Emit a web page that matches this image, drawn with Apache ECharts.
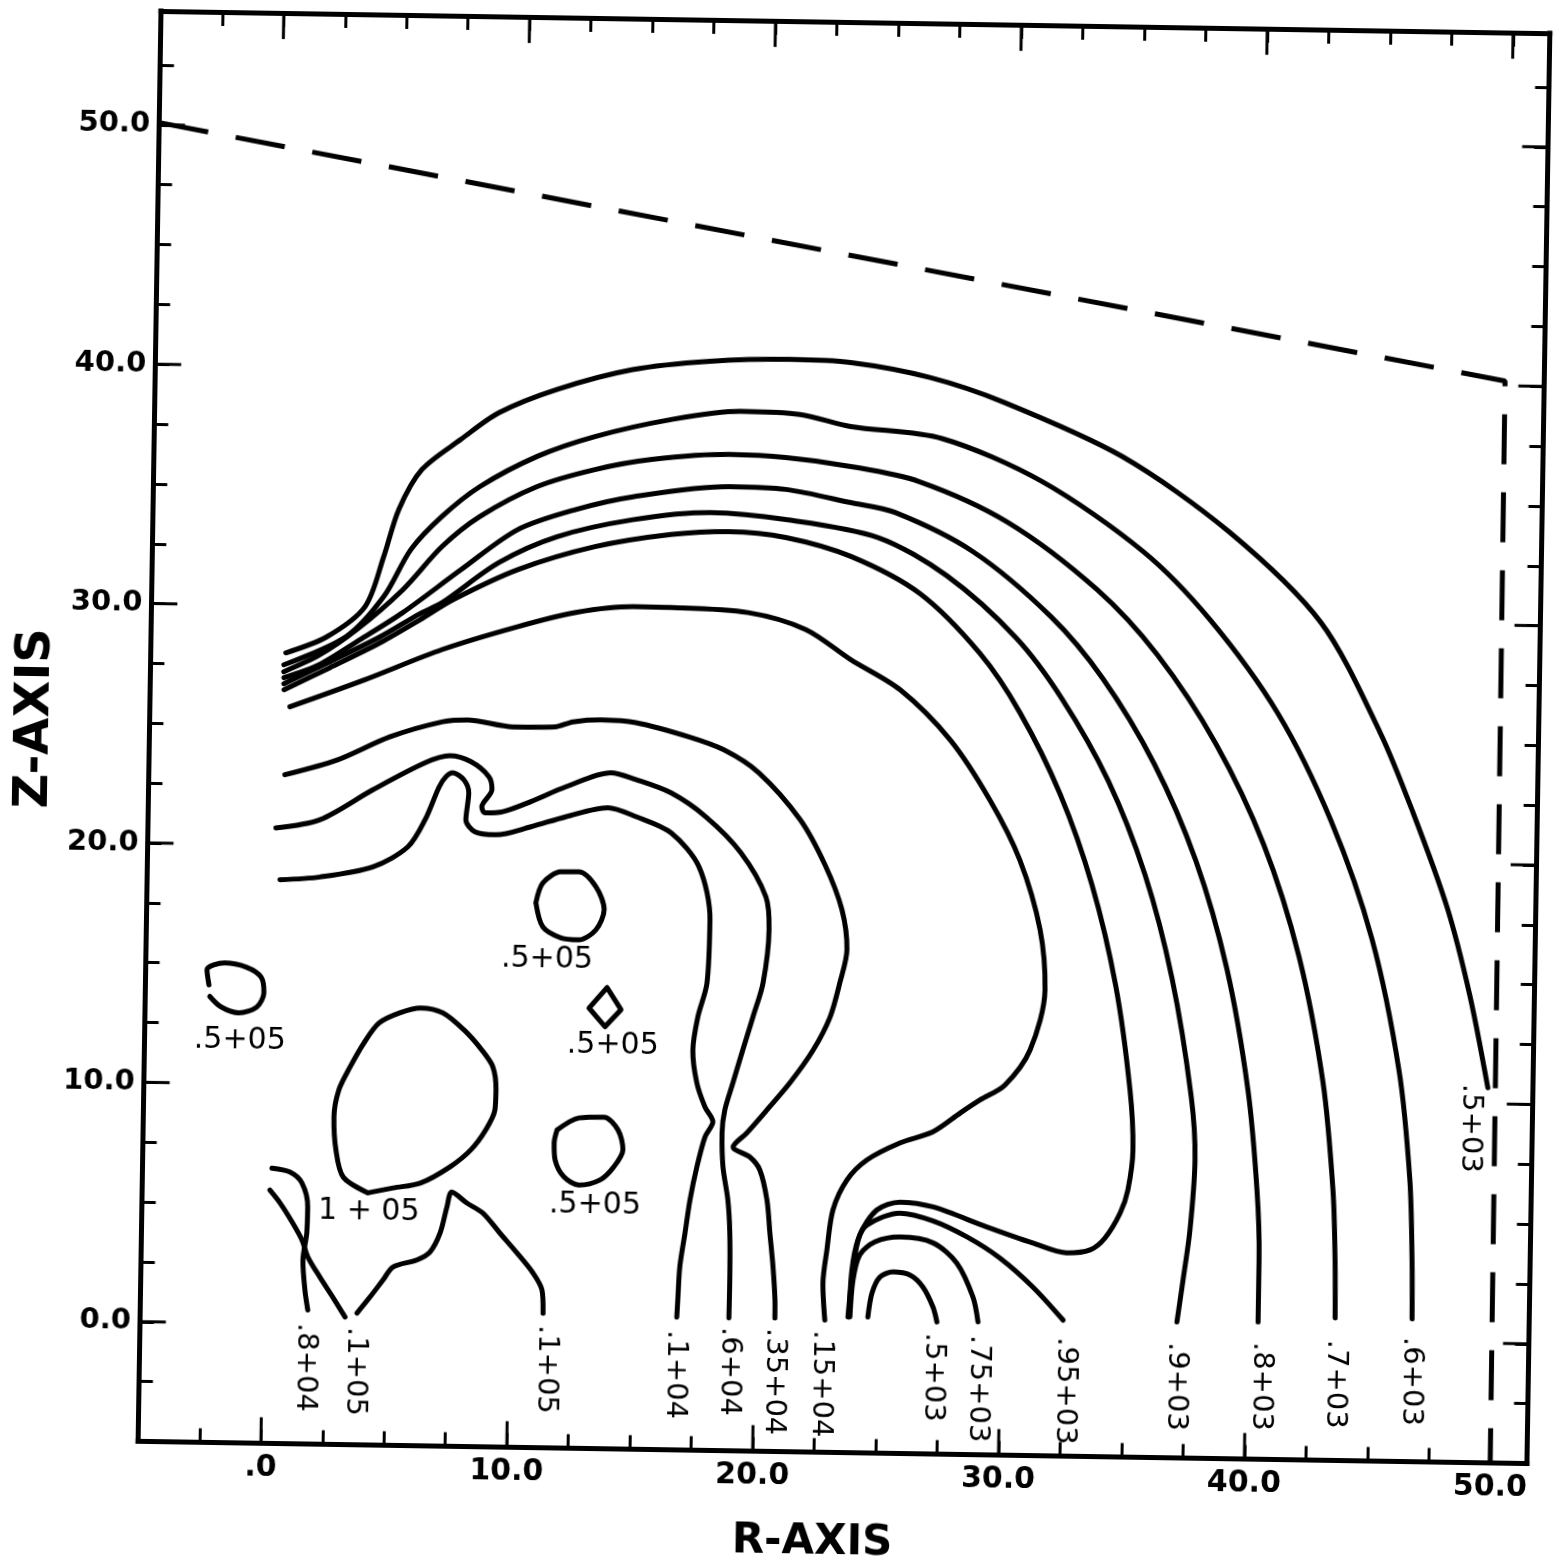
<!DOCTYPE html>
<html><head><meta charset="utf-8">
<script src="https://cdn.jsdelivr.net/npm/echarts@6/dist/echarts.min.js"></script>
<style>
html,body{margin:0;padding:0;background:#fff;overflow:hidden;width:1565px;height:1566px;}
/* the scanned original sits about 0.92 degree clockwise on the page */
#chart{width:1565px;height:1566px;transform-origin:843px 735px;transform:rotate(0.917deg);}
</style>
</head><body><div id="chart"></div>
<script>
// ---- axes ----
const xMin = -5, xMax = 51.5, yMin = -5, yMax = 54.75, tickStep = 2.5;
const xLabelValues = [0, 10, 20, 30, 40, 50];
const xLabelTexts = ['.0', '10.0', '20.0', '30.0', '40.0', '50.0'];
const yLabelValues = [0, 10, 20, 30, 40, 50];
const yLabelTexts = ['0.0', '10.0', '20.0', '30.0', '40.0', '50.0'];
const majorTicksX = [0, 10, 20, 30, 40, 50];
const majorTicksY = [0, 10, 20, 30, 40, 50];

// ---- contour lines (R, Z) ----
const c500 = [[0.50,28.03],[2.16,28.73],[3.69,30.01],[4.42,32.12],[5.00,34.09],[5.91,35.77],[7.48,37.06],[9.01,38.20],[11.35,39.21],[14.42,40.09],[17.55,40.49],[20.80,40.62],[23.29,40.53],[26.51,39.96],[29.57,38.96],[34.38,36.79],[38.77,33.72],[42.57,29.99],[45.05,25.43],[46.44,22.11],[47.89,18.16],[48.87,14.50],[49.66,10.67]];
const c600 = [[0.43,27.53],[2.93,28.74],[4.45,30.45],[5.52,32.43],[6.76,33.83],[8.28,35.10],[10.59,36.40],[12.93,37.27],[16.01,38.03],[18.81,38.42],[21.25,38.33],[23.33,37.86],[27.04,37.42],[31.14,35.69],[35.29,32.84],[38.06,30.03],[40.88,26.16],[43.11,21.71],[44.85,16.81],[46.04,11.32],[46.55,6.76],[46.69,3.43],[46.73,0.96]];
const c700 = [[0.43,27.24],[1.88,27.97],[3.37,29.05],[5.22,30.75],[6.78,32.57],[8.30,33.85],[10.61,35.14],[12.95,35.89],[15.26,36.35],[18.38,36.61],[20.71,36.52],[23.36,36.19],[26.13,35.61],[29.78,33.96],[33.44,31.22],[35.93,28.54],[38.38,24.85],[40.39,20.67],[41.90,16.01],[42.95,10.81],[43.43,6.29],[43.56,3.37],[43.60,0.95]];
const c800 = [[0.44,26.99],[1.85,27.55],[3.51,28.63],[5.23,29.79],[7.57,31.62],[9.85,33.33],[12.20,34.21],[14.51,34.78],[18.40,35.27],[20.73,35.19],[23.38,34.68],[25.18,34.30],[28.37,32.72],[31.59,30.05],[33.74,27.50],[35.88,23.98],[37.64,19.95],[38.97,15.46],[39.90,10.46],[40.34,6.24],[40.47,3.32],[40.47,0.73]];
const c900 = [[0.44,26.74],[2.30,27.69],[4.32,28.76],[5.92,29.75],[6.82,30.23],[9.10,31.94],[11.45,33.06],[14.52,33.82],[17.65,34.17],[20.75,33.93],[24.51,33.24],[27.33,31.69],[30.18,29.15],[32.09,26.63],[34.02,23.24],[35.58,19.34],[36.75,15.01],[37.60,10.13],[37.80,7.46],[37.64,4.53],[37.39,2.43],[37.17,0.68]];
const cInner = [[0.45,26.49],[2.30,27.44],[4.32,28.51],[5.93,29.50],[7.26,30.36],[9.88,31.66],[13.00,32.67],[16.08,33.23],[18.43,33.39],[20.76,33.18],[23.42,32.43],[26.24,30.93],[28.73,28.46],[30.39,26.02],[32.07,22.66],[33.43,18.88],[34.47,14.64],[35.11,10.34],[35.27,7.84],[35.09,6.16],[34.79,5.19],[34.19,4.14],[33.59,3.63],[32.65,3.49],[31.26,3.88],[29.38,4.52],[27.18,5.32],[25.83,5.50],[24.90,5.16],[24.22,4.10],[23.96,2.63],[23.79,0.67]];
const c1500 = [[0.70,25.78],[3.73,26.96],[6.85,28.27],[9.92,29.28],[12.27,29.91],[14.58,30.19],[16.13,30.18],[19.27,30.02],[21.63,29.35],[23.48,28.12],[25.50,26.90],[27.56,24.85],[29.22,22.36],[30.48,19.87],[31.35,16.97],[31.59,14.46],[31.02,11.94],[30.02,10.46],[29.02,9.82],[28.22,9.26],[27.13,8.46],[25.79,7.97],[24.46,7.24],[23.66,6.39],[23.11,5.13],[22.89,3.45],[22.75,2.07],[22.85,0.52]];
const c3500 = [[0.54,22.94],[2.68,23.60],[4.78,24.59],[6.93,25.26],[7.94,25.35],[9.78,25.09],[11.49,25.12],[12.22,25.34],[13.35,25.44],[14.78,25.35],[16.95,24.79],[18.38,24.27],[19.81,23.34],[21.52,21.41],[22.56,19.54],[23.28,17.67],[23.51,16.00],[23.24,14.61],[22.87,13.19],[22.20,11.79],[21.28,10.41],[20.36,9.26],[19.56,8.29],[19.01,7.69],[19.70,7.28],[20.11,6.75],[20.42,5.50],[20.56,4.13],[20.71,2.71],[20.81,1.33],[20.82,0.58]];
const c6000 = [[0.21,20.71],[1.99,21.08],[4.13,22.37],[6.23,23.53],[7.24,23.84],[8.09,23.61],[8.84,22.99],[8.97,22.45],[8.57,21.73],[8.70,21.48],[9.43,21.54],[10.56,21.98],[11.97,22.62],[13.80,23.24],[14.82,22.97],[16.25,22.44],[17.69,21.46],[19.13,19.99],[20.18,18.16],[20.33,16.79],[20.12,14.56],[19.73,13.13],[19.34,11.75],[18.96,10.37],[18.65,9.24],[18.55,8.27],[18.61,6.85],[18.83,5.48],[18.93,4.10],[18.96,2.01],[18.95,0.55]];
const c1000 = [[0.41,18.55],[2.03,18.69],[4.18,19.15],[5.59,20.01],[6.27,21.15],[6.82,22.53],[7.09,22.96],[7.37,23.13],[7.82,22.85],[8.03,22.30],[7.93,21.18],[8.31,20.68],[9.16,20.57],[10.58,20.93],[11.99,21.37],[13.70,21.78],[14.85,21.42],[16.28,20.77],[17.44,19.37],[17.92,17.17],[17.84,14.52],[17.49,13.10],[17.31,11.71],[17.49,10.35],[17.84,9.34],[18.17,8.73],[17.86,8.09],[17.55,6.84],[17.29,5.45],[17.11,4.07],[16.92,2.65],[16.86,1.26],[16.83,0.55]];
const c500small = [[24.60,0.68],[24.75,1.68],[25.07,2.36],[25.60,2.58],[26.29,2.46],[26.82,1.97],[27.24,1.14],[27.41,0.52]];
const c750 = [[23.87,0.67],[23.97,2.21],[24.23,3.27],[24.84,3.82],[25.85,4.04],[27.20,3.82],[28.18,2.99],[28.86,1.58],[29.08,0.55]];
const c950 = [[23.83,0.67],[23.92,2.63],[24.14,3.88],[24.50,4.52],[25.84,5.04],[27.18,4.74],[28.58,4.09],[29.93,3.23],[31.29,2.04],[32.54,0.68]];
const c8000 = [[0.27,6.50],[1.00,6.35],[1.50,5.90],[1.75,4.90],[1.73,3.82],[1.59,2.68],[1.69,1.43],[1.82,0.60]];
const c10000a = [[0.20,5.58],[0.62,5.05],[1.15,4.22],[1.54,3.51],[1.79,2.81],[2.29,1.98],[2.83,1.15],[3.34,0.33]];
const c10000b = [[3.82,0.50],[4.34,1.18],[4.86,1.90],[5.26,2.45],[6.22,2.76],[6.75,3.10],[7.15,3.90],[7.41,4.99],[7.60,5.62],[8.22,5.17],[8.88,4.76],[9.58,3.94],[10.29,3.12],[10.95,2.30],[11.33,1.59],[11.39,0.62]];
const c100000 = [[4.19,5.53],[3.17,6.18],[2.86,7.30],[2.76,8.67],[2.94,9.81],[3.38,10.77],[3.93,11.79],[4.53,12.63],[5.37,13.07],[6.22,13.29],[7.12,13.10],[7.99,12.40],[8.73,11.57],[9.19,10.87],[9.33,9.91],[9.30,9.08],[8.94,8.24],[8.35,7.40],[7.51,6.67],[6.33,5.98],[5.21,5.75],[4.19,5.53]];
const c50000a = [[-2.41,14.11],[-2.50,14.74],[-1.78,15.04],[-0.91,14.88],[-0.30,14.48],[-0.17,13.82],[-0.45,13.22],[-1.18,12.96],[-1.91,13.20],[-2.37,13.63]];
const c50000b = [[10.83,17.76],[11.10,18.59],[11.83,19.07],[12.56,19.08],[13.26,18.47],[13.61,17.51],[13.29,16.67],[12.60,16.24],[11.87,16.31],[11.13,16.75],[10.83,17.76]];
const c50000c = [[13.78,14.26],[14.36,13.35],[13.72,12.63],[13.06,13.40],[13.78,14.26]];
const c50000d = [[11.84,8.28],[12.72,8.80],[13.74,8.85],[14.32,8.32],[14.53,7.50],[14.17,6.78],[13.61,6.22],[12.76,6.00],[12.15,6.33],[11.78,7.03],[11.73,7.74],[11.84,8.28]];
const boundary = [[-5,50.09],[49.9,40.2],[50.0,-5]];

// ---- contour labels ----
const endLabels = ['.8+04','.1+05','.1+05','.1+04','.6+04','.35+04','.15+04','.5+03','.75+03','.95+03','.9+03','.8+03','.7+03','.6+03','.5+03'];
const endLabelR = [1.75,3.79,11.56,16.80,18.99,20.83,22.74,27.29,29.14,32.68,37.18,40.64,43.65,46.74,48.97];
const endLabelZ = [0.05,-0.08,0.13,0.0,0.17,0.16,0.10,0.06,0.0,-0.03,-0.16,-0.10,0.04,0.21,10.82];
const innerLabels = ['.5+05','.5+05','.5+05','.5+05','1 + 05'];
const innerLabelR = [-1.12,11.32,14.05,13.43,4.24];
const innerLabelZ = [11.79,15.39,11.83,5.18,4.73];

// ---- build chart ----
const FONT = '"DejaVu Sans", sans-serif';
const BLACK = '#000';
function fmt(values, texts) {
  return function (v) {
    const i = values.findIndex(a => Math.abs(a - v) < 1e-6);
    return i >= 0 ? texts[i] : '';
  };
}
const axisBase = {
  type: 'value', interval: tickStep,
  axisLine: { show: true, onZero: false, lineStyle: { color: BLACK, width: 5, cap: 'square' } },
  axisTick: { show: true, inside: true, length: 14, lineStyle: { color: BLACK, width: 3 } },
  splitLine: { show: false }
};
const contourSets = [c500, c600, c700, c800, c900, cInner, c1500, c3500, c6000, c1000,
  c500small, c750, c950, c8000, c10000a, c10000b, c100000, c50000a, c50000b, c50000d];

const series = contourSets.map(d => ({
  type: 'line', data: d, showSymbol: false, symbol: 'none', smooth: 0.3, silent: true,
  lineStyle: { color: BLACK, width: 5, cap: 'round', join: 'round' }, z: 3
}));
series.push({
  type: 'line', data: c50000c, showSymbol: false, symbol: 'none', smooth: false, silent: true,
  lineStyle: { color: BLACK, width: 5, cap: 'round', join: 'round' }, z: 3
});
series.push({
  type: 'line', data: boundary, showSymbol: false, symbol: 'none', smooth: false, silent: true,
  lineStyle: { color: BLACK, width: 5, type: [50, 28], cap: 'butt' }, z: 3
});
// longer major ticks on all four frame sides
series.push({
  type: 'custom', silent: true, z: 4,
  data: majorTicksX.map(v => [v, yMin]),
  renderItem: function (params, api) {
    const v = api.value(0);
    const b = api.coord([v, yMin]), t = api.coord([v, yMax]);
    return { type: 'group', children: [
      { type: 'line', shape: { x1: b[0], y1: b[1], x2: b[0], y2: b[1] - 26 }, style: { stroke: BLACK, lineWidth: 3 } },
      { type: 'line', shape: { x1: t[0], y1: t[1], x2: t[0], y2: t[1] + 26 }, style: { stroke: BLACK, lineWidth: 3 } }
    ] };
  }
});
series.push({
  type: 'custom', silent: true, z: 4,
  data: majorTicksY.map(v => [xMin, v]),
  renderItem: function (params, api) {
    const v = api.value(1);
    const l = api.coord([xMin, v]), r = api.coord([xMax, v]);
    return { type: 'group', children: [
      { type: 'line', shape: { x1: l[0], y1: l[1], x2: l[0] + 26, y2: l[1] }, style: { stroke: BLACK, lineWidth: 3 } },
      { type: 'line', shape: { x1: r[0], y1: r[1], x2: r[0] - 26, y2: r[1] }, style: { stroke: BLACK, lineWidth: 3 } }
    ] };
  }
});
// rotated labels at the contour ends
series.push({
  type: 'custom', silent: true, z: 5,
  data: endLabelR.map((r, i) => [r, endLabelZ[i]]),
  renderItem: function (params, api) {
    const p = api.coord([api.value(0), api.value(1)]);
    return { type: 'text', x: p[0], y: p[1], rotation: -Math.PI / 2,
      style: { text: endLabels[params.dataIndex], fontFamily: FONT, fontSize: 29, fill: BLACK, align: 'left', verticalAlign: 'middle' } };
  }
});
// horizontal labels inside the plot
series.push({
  type: 'custom', silent: true, z: 5,
  data: innerLabelR.map((r, i) => [r, innerLabelZ[i]]),
  renderItem: function (params, api) {
    const p = api.coord([api.value(0), api.value(1)]);
    return { type: 'text', x: p[0], y: p[1],
      style: { text: innerLabels[params.dataIndex], fontFamily: FONT, fontSize: 30, fill: BLACK, align: 'center', verticalAlign: 'middle' } };
  }
});

const option = {
  animation: false,
  backgroundColor: '#fff',
  grid: { left: 149.35, top: 22.1, width: 1389.3, height: 1430.4, containLabel: false, outerBoundsMode: 'none' },
  xAxis: [
    Object.assign({}, axisBase, {
      position: 'bottom', min: xMin, max: xMax,
      axisLabel: { formatter: fmt(xLabelValues, xLabelTexts), color: BLACK, fontFamily: FONT, fontSize: 30, fontWeight: 'bold', margin: 10 },
      name: 'R-AXIS', nameLocation: 'middle', nameGap: 70, nameMoveOverlap: false,
      nameTextStyle: { color: BLACK, fontFamily: FONT, fontSize: 42, fontWeight: 'bold', padding: [0, 38, 0, 0] }
    }),
    Object.assign({}, axisBase, { position: 'top', min: xMin, max: xMax, axisLabel: { show: false } })
  ],
  yAxis: [
    Object.assign({}, axisBase, {
      position: 'left', min: yMin, max: yMax,
      axisLabel: { formatter: fmt(yLabelValues, yLabelTexts), color: BLACK, fontFamily: FONT, fontSize: 29, fontWeight: 'bold', margin: 9 },
      name: 'Z-AXIS', nameLocation: 'middle', nameGap: 90, nameMoveOverlap: false,
      nameTextStyle: { color: BLACK, fontFamily: FONT, fontSize: 48, fontWeight: 'bold', padding: [0, 0, 0, 12] }
    }),
    Object.assign({}, axisBase, { position: 'right', min: yMin, max: yMax, axisLabel: { show: false } })
  ],
  series: series
};
const chart = echarts.init(document.getElementById('chart'), null, { renderer: 'canvas', width: 1565, height: 1566 });
chart.setOption(option);
</script>
</body></html>
